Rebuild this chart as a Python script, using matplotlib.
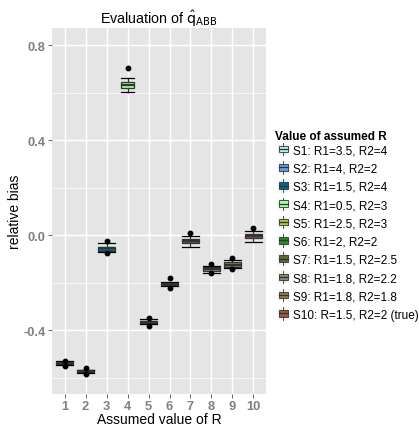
import matplotlib
matplotlib.use('Agg')
import matplotlib.pyplot as plt
from matplotlib.patches import Rectangle, Patch
from matplotlib.lines import Line2D
from matplotlib.legend_handler import HandlerBase

plt.rcParams['font.family'] = ['Liberation Sans', 'DejaVu Sans']

# values
positions = [1, 2, 3, 4, 5, 6, 7, 8, 9, 10]
medians = [-0.539, -0.571, -0.054, 0.634, -0.364, -0.205, -0.024, -0.142, -0.124, -0.001]
q1 = [-0.543, -0.574, -0.064, 0.619, -0.368, -0.209, -0.032, -0.152, -0.134, -0.011]
q3 = [-0.535, -0.568, -0.047, 0.648, -0.360, -0.201, -0.014, -0.134, -0.114, 0.007]
whislo = [-0.547, -0.578, -0.068, 0.602, -0.374, -0.214, -0.047, -0.157, -0.138, -0.026]
whishi = [-0.531, -0.565, -0.031, 0.662, -0.354, -0.195, -0.001, -0.127, -0.102, 0.020]
fliers = [[-0.528, -0.550], [-0.560, -0.582], [-0.024, -0.075], [0.704],
          [-0.346, -0.382], [-0.180, -0.222], [0.010], [-0.119, -0.160],
          [-0.096, -0.142], [0.029]]
labels = ['S1: R1=3.5, R2=4', 'S2: R1=4, R2=2', 'S3: R1=1.5, R2=4',
          'S4: R1=0.5, R2=3', 'S5: R1=2.5, R2=3', 'S6: R1=2, R2=2',
          'S7: R1=1.5, R2=2.5', 'S8: R1=1.8, R2=2.2', 'S9: R1=1.8, R2=1.8',
          'S10: R=1.5, R2=2 (true)']
colors = ['#AEEEEE', '#5CA0E6', '#00688B', '#9AFF9A', '#A2CD32',
          '#228B22', '#556B2F', '#8B8970', '#8B7F45', '#A0523D']
yticks = [-0.4, 0.0, 0.4, 0.8]

EDGE = '#333333'


class BoxKey(HandlerBase):
    def create_artists(self, legend, orig, xd, yd, w, h, fontsize, trans):
        bg = Rectangle((xd, yd - 0.25 * h), w, 1.5 * h, facecolor='#F2F2F2',
                       edgecolor='white', lw=0.5, transform=trans)
        wl = Line2D([xd + w / 2, xd + w / 2], [yd - 0.25 * h, yd + 1.25 * h],
                    color=EDGE, lw=0.6, transform=trans)
        box = Rectangle((xd + 0.1 * w, yd + 0.1 * h), 0.8 * w, 0.8 * h,
                        facecolor=orig.get_facecolor(), edgecolor=EDGE,
                        lw=0.6, transform=trans)
        med = Line2D([xd + 0.1 * w, xd + 0.9 * w], [yd + 0.5 * h, yd + 0.5 * h],
                     color=EDGE, lw=0.9, transform=trans)
        return [bg, wl, box, med]


fig = plt.figure(figsize=(4.19, 4.27), dpi=100)
ax = fig.add_axes([0.124, 0.075, 0.511, 0.858])
ax.set_facecolor('#E5E5E5')

stats = []
for i in range(len(positions)):
    stats.append(dict(med=medians[i], q1=q1[i], q3=q3[i], whislo=whislo[i],
                      whishi=whishi[i], fliers=fliers[i]))

widths = [0.78] * 10
widths[3] = 0.62
bp = ax.bxp(stats, positions=positions, widths=widths, patch_artist=True,
            showfliers=True,
            boxprops=dict(edgecolor=EDGE, linewidth=0.9),
            medianprops=dict(color=EDGE, linewidth=1.6),
            whiskerprops=dict(color=EDGE, linewidth=0.9),
            capprops=dict(color='black', linewidth=0.9),
            flierprops=dict(marker='o', markersize=3.2, markerfacecolor='black',
                            markeredgecolor='black'),
            capwidths=widths)
for patch, c in zip(bp['boxes'], colors):
    patch.set_facecolor(c)
    patch.set_zorder(3)
for k in ('medians', 'whiskers', 'caps', 'fliers'):
    for a in bp[k]:
        a.set_zorder(3)

ax.set_xlim(0.4, 10.6)
ax.set_ylim(-0.668, 0.875)
ax.set_xticks(positions)
ax.set_xticklabels([str(p) for p in positions])
ax.set_yticks(yticks)
ax.set_yticklabels(['%.1f' % v for v in yticks])
ax.set_yticks([-0.6, -0.2, 0.2, 0.6], minor=True)
ax.grid(True, which='major', color='white', linewidth=1.0, zorder=0)
ax.grid(True, which='minor', axis='y', color='white', linewidth=0.5, zorder=0)
ax.set_axisbelow(True)
for s in ax.spines.values():
    s.set_visible(False)
ax.tick_params(which='major', length=3, width=0.6, color='#4D4D4D',
               labelcolor='#7F7F7F', labelsize=9.3, pad=1.5)
ax.tick_params(which='minor', length=0)
for t in ax.get_xticklabels() + ax.get_yticklabels():
    t.set_fontweight('bold')

ax.set_xlabel('Assumed value of R', fontsize=10, labelpad=0)
ax.set_ylabel('relative bias', fontsize=10, labelpad=1)
ax.set_title(r'Evaluation of $\hat{\mathrm{q}}_{\mathrm{ABB}}$', fontsize=10.3, pad=1)

# legend title drawn on its own, entries below
fig.text(275 / 419, 1 - 137 / 427, 'Value of assumed R', fontsize=8.5,
         fontweight='bold', ha='left', va='center')
handles = [Patch(facecolor=c, edgecolor=EDGE) for c in colors]
leg = fig.legend(handles, labels, loc='upper left',
                 bbox_to_anchor=(275 / 419, 1 - 143 / 427),
                 handler_map={Patch: BoxKey()}, frameon=False,
                 fontsize=8.5, handlelength=1.0, handleheight=0.72,
                 handletextpad=0.3, labelspacing=0.53, borderaxespad=0,
                 borderpad=0.2)

fig.savefig('out.png', dpi=100)
